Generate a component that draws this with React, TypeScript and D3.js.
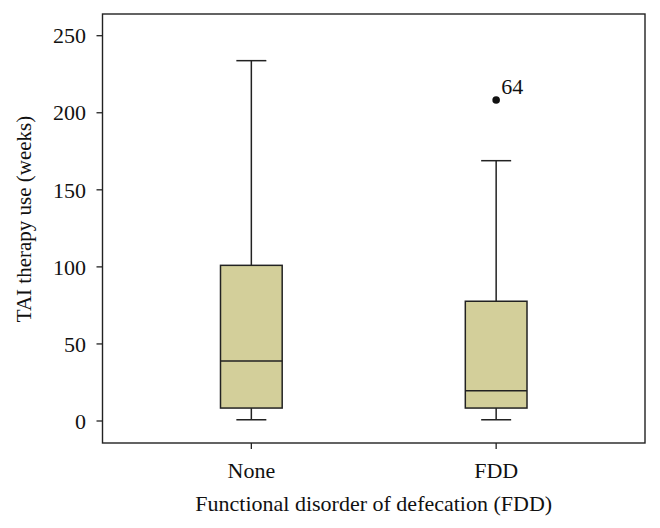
import React from "react";
import * as d3 from "d3";

const categories = ["None", "FDD"];
const whiskerLow = [0.8, 0.8];
const q1Values = [8.4, 8.4];
const medianValues = [39, 19.7];
const q3Values = [101, 77.7];
const whiskerHigh = [233.8, 168.9];
const outliers = [{ cat: "FDD", value: 208.3, label: "64" }];
const yTicks = [0, 50, 100, 150, 200, 250];

const W = 660;
const H = 528;
const left = 102.5;
const right = 645;
const top = 14;
const bottom = 443;
const font = "'Liberation Serif', 'Times New Roman', serif";
const fs = 22;

export default function App() {
  const y = d3.scaleLinear().domain([0, 250]).range([421, 35.7]);
  const x = d3.scalePoint<string>().domain(categories).range([left, right]).padding(0.608);
  const step = x.step();
  const boxW = step * 0.252;
  const capW = 30;

  return (
    <svg width={W} height={H} style={{ position: "absolute", left: 0, top: 0, background: "#fff" }}>
      <rect x={left} y={top} width={right - left} height={bottom - top} fill="none" stroke="#222" strokeWidth={1.4} />
      {yTicks.map((t) => (
        <g key={t}>
          <line x1={left - 6} x2={left} y1={y(t)} y2={y(t)} stroke="#222" strokeWidth={1.3} />
          <text x={86} y={y(t)} dy="0.35em" textAnchor="end" fontFamily={font} fontSize={fs} fill="#111">
            {t}
          </text>
        </g>
      ))}
      {categories.map((c, i) => {
        const cx = x(c)!;
        return (
          <g key={c}>
            <line x1={cx} x2={cx} y1={bottom} y2={bottom + 6} stroke="#222" strokeWidth={1.3} />
            <text x={cx} y={478} textAnchor="middle" fontFamily={font} fontSize={fs} fill="#111">
              {c}
            </text>
            <line x1={cx} x2={cx} y1={y(whiskerHigh[i])} y2={y(q3Values[i])} stroke="#222" strokeWidth={1.5} />
            <line x1={cx} x2={cx} y1={y(q1Values[i])} y2={y(whiskerLow[i])} stroke="#222" strokeWidth={1.5} />
            <line x1={cx - capW / 2} x2={cx + capW / 2} y1={y(whiskerHigh[i])} y2={y(whiskerHigh[i])} stroke="#222" strokeWidth={1.5} />
            <line x1={cx - capW / 2} x2={cx + capW / 2} y1={y(whiskerLow[i])} y2={y(whiskerLow[i])} stroke="#222" strokeWidth={1.5} />
            <rect
              x={cx - boxW / 2}
              y={y(q3Values[i])}
              width={boxW}
              height={y(q1Values[i]) - y(q3Values[i])}
              fill="#d3cf9a"
              stroke="#222"
              strokeWidth={1.5}
            />
            <line x1={cx - boxW / 2} x2={cx + boxW / 2} y1={y(medianValues[i])} y2={y(medianValues[i])} stroke="#222" strokeWidth={1.5} />
          </g>
        );
      })}
      {outliers.map((o) => (
        <g key={o.label}>
          <circle cx={x(o.cat)!} cy={y(o.value)} r={3.8} fill="#111" />
          <text x={x(o.cat)! + 5} y={y(o.value) - 6} fontFamily={font} fontSize={fs} fill="#111">
            {o.label}
          </text>
        </g>
      ))}
      <text x={(left + right) / 2} y={511} textAnchor="middle" fontFamily={font} fontSize={fs} fill="#111">
        Functional disorder of defecation (FDD)
      </text>
      <text
        transform={`translate(31, 219) rotate(-90)`}
        textAnchor="middle"
        fontFamily={font}
        fontSize={21}
        fill="#111"
      >
        TAI therapy use (weeks)
      </text>
    </svg>
  );
}
